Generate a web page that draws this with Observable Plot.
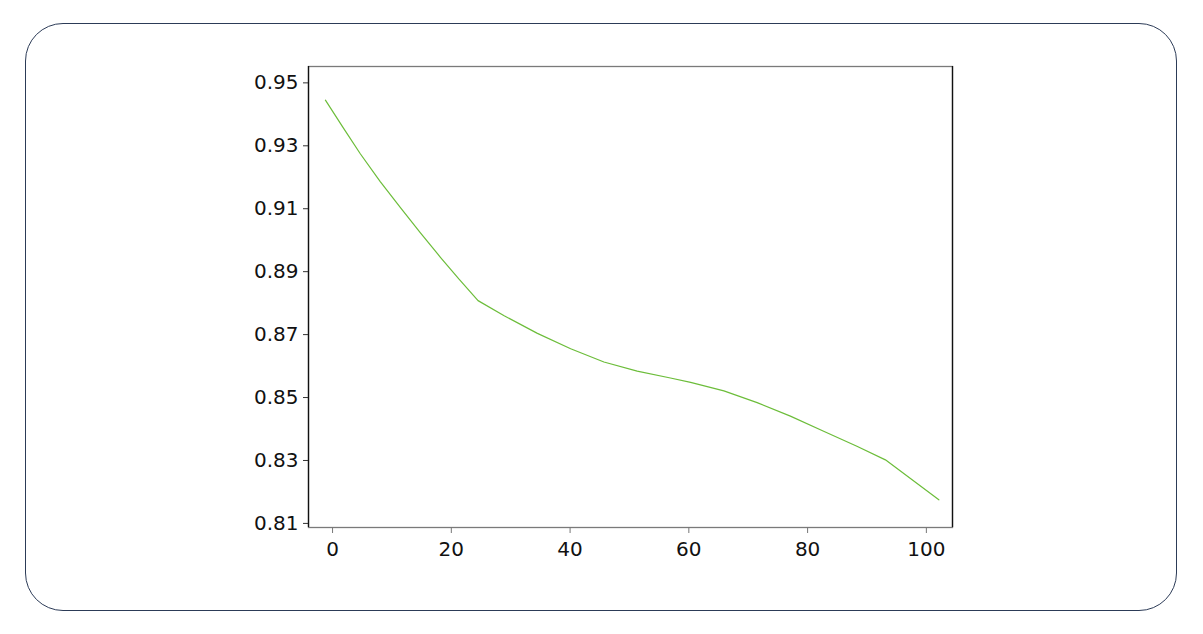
<!DOCTYPE html>
<html>
<head>
<meta charset="utf-8">
<script src="https://cdn.jsdelivr.net/npm/d3@7"></script>
<script src="https://cdn.jsdelivr.net/npm/@observablehq/plot@0.6"></script>
<style>
  html, body { margin: 0; padding: 0; background: #fff; }
  #wrap { position: relative; width: 1203px; height: 634px; overflow: hidden; }
  #card { position: absolute; left: 25px; top: 23px; width: 1152px; height: 588px;
          border: 1.4px solid #2c3b57; border-radius: 38px; box-sizing: border-box; }
  #chart { position: absolute; left: 0; top: 0; }
</style>
</head>
<body>
<div id="wrap"><div id="card"></div><div id="chart"></div></div>
<script>
// Data
const xs = [-1.2, 1.7, 4.7, 8.0, 11.4, 14.8, 18.2, 21.3, 24.5, 28.9, 34.5, 40.1, 45.7, 51.3, 56.9, 60.3, 65.9, 71.5, 77.1, 82.7, 88.3, 93.1, 102.1];
const ys = [0.9445, 0.9360, 0.9274, 0.9187, 0.9104, 0.9023, 0.8945, 0.8876, 0.8808, 0.8760, 0.8704, 0.8655, 0.8613, 0.8584, 0.8562, 0.8548, 0.8521, 0.8484, 0.8441, 0.8393, 0.8345, 0.8302, 0.8175];
const xTicks = [0, 20, 40, 60, 80, 100];
const yTicks = [0.81, 0.83, 0.85, 0.87, 0.89, 0.91, 0.93, 0.95];
const xDomain = [-4.05, 104.4];
const yDomain = [0.8087, 0.9552];

const data = xs.map((x, i) => ({x, y: ys[i]}));
const font = "DejaVu Sans, sans-serif";

const plot = Plot.plot({
  width: 1203,
  height: 634,
  marginLeft: 308,
  marginRight: 251,
  marginTop: 66,
  marginBottom: 107,
  style: {fontFamily: font, fontSize: "20px", color: "#111", background: "transparent"},
  x: {domain: xDomain},
  y: {domain: yDomain},
  marks: [
    Plot.frame({stroke: "#7a7a7a", strokeWidth: 1.3}),
    Plot.ruleX(xDomain, {stroke: "#111", strokeWidth: 1.3}),
    Plot.axisX(xTicks, {tickSize: 6, tickPadding: 8, stroke: "#777", fill: "#111", fontSize: 20, label: null, tickFormat: d => String(d)}),
    Plot.axisY(yTicks, {tickSize: 5, tickPadding: 5, stroke: "#333", fill: "#111", fontSize: 20, label: null, tickFormat: d => d.toFixed(2)}),
    Plot.line(data, {x: "x", y: "y", stroke: "#6cbd3a", strokeWidth: 1.2})
  ]
});
document.getElementById("chart").appendChild(plot);
</script>
</body>
</html>
